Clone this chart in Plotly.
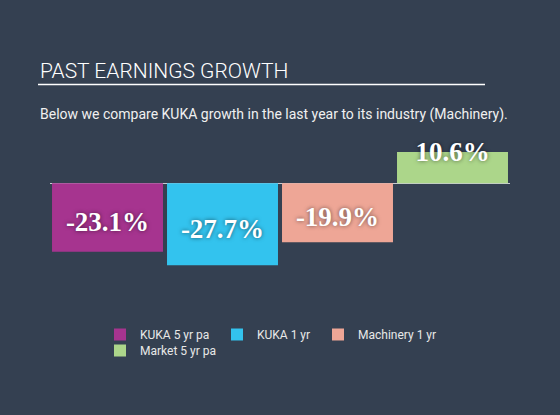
import plotly.graph_objects as go

series_names = ["KUKA 5 yr pa", "KUKA 1 yr", "Machinery 1 yr", "Market 5 yr pa"]
series_values = [-23.1, -27.7, -19.9, 10.6]
series_colors = ["#a6348f", "#33c3ee", "#eea696", "#acd68a"]
title_text = "PAST EARNINGS GROWTH"
subtitle_text = "Below we compare KUKA growth in the last year to its industry (Machinery)."

BG = "#344051"
W, H = 560, 415
ML, MR, MT, MB = 50, 50, 140, 135

# legend text start x and row top y (pixels), one legend per entry
legend_pos = [(100, 320), (217, 320), (318, 320), (100, 336)]
legend_ids = ["legend", "legend2", "legend3", "legend4"]

fig = go.Figure()
for i, (name, val, col) in enumerate(zip(series_names, series_values, series_colors)):
    fig.add_trace(go.Bar(
        x=[name], y=[val], name=name, marker=dict(color=col, line=dict(width=0)),
        legend=legend_ids[i], hoverinfo="skip",
    ))

label_y = [v / 2 - 2.2 if v < 0 else v - 0.7 for v in series_values]
fig.add_trace(go.Scatter(
    x=series_names, y=label_y, mode="text",
    text=[f"{v:.1f}%" for v in series_values],
    textposition="middle center",
    textfont=dict(family="Liberation Serif", size=27, color="#ffffff", weight="bold",
                  shadow="0px 0px 4px rgba(0,0,0,0.55)"),
    showlegend=False, hoverinfo="skip",
))

legends = {}
for lid, (lx, ly) in zip(legend_ids, legend_pos):
    legends[lid] = dict(orientation="h", xref="container", yref="container",
                        x=lx / W, y=1 - ly / H, xanchor="left", yanchor="top",
                        font=dict(family="Roboto", size=12, color="#e8e8e8"),
                        bgcolor="rgba(0,0,0,0)", itemclick=False, itemdoubleclick=False)

fig.update_layout(
    width=W, height=H,
    margin=dict(l=ML, r=MR, t=MT, b=MB),
    paper_bgcolor=BG, plot_bgcolor=BG,
    barmode="overlay", bargap=0.035,
    font=dict(family="Roboto", color="#ffffff"),
    xaxis=dict(visible=False, showgrid=False, zeroline=False),
    yaxis=dict(range=[-32.67, 14.63], showgrid=False, showticklabels=False, ticks="",
               zeroline=True, zerolinecolor="#c8ccd2", zerolinewidth=1),
    showlegend=True,
    annotations=[
        dict(text=title_text, xref="paper", yref="paper",
             x=(38 - ML) / (W - ML - MR), y=(H - MB - 70.5) / (H - MT - MB),
             xanchor="left", yanchor="middle", showarrow=False,
             font=dict(family="Roboto", size=21, weight=300, color="#ffffff")),
        dict(text=subtitle_text, xref="paper", yref="paper",
             x=(38 - ML) / (W - ML - MR), y=(H - MB - 114) / (H - MT - MB),
             xanchor="left", yanchor="middle", showarrow=False,
             font=dict(family="Roboto", size=14, color="#f0f0f0")),
    ],
    shapes=[
        dict(type="line", xref="paper", yref="paper",
             x0=(38 - ML) / (W - ML - MR), x1=(485 - ML) / (W - ML - MR),
             y0=(H - MB - 84.5) / (H - MT - MB), y1=(H - MB - 84.5) / (H - MT - MB),
             line=dict(color="#ffffff", width=1.5)),
    ],
    **legends,
)

fig.write_html("out.html", config={"displayModeBar": False},
               post_script="document.body.style.margin='0';document.body.style.background='%s';" % BG)
